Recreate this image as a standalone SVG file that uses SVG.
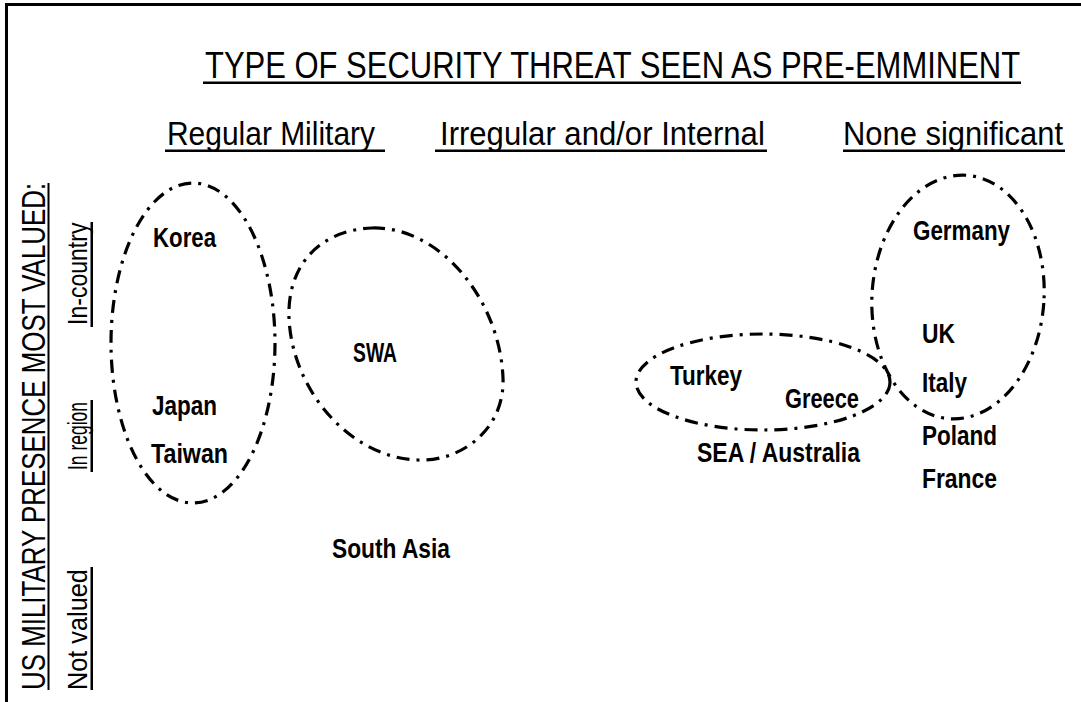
<svg xmlns="http://www.w3.org/2000/svg" width="1081" height="702" viewBox="0 0 1081 702">
<style>
.h{font-family:"Liberation Sans",Arial,sans-serif;fill:#000}
.lbl{font-family:"Liberation Sans",Arial,sans-serif;font-weight:bold;font-size:27px;fill:#000}
.ul{fill:#000}
.grp{fill:none;stroke:#000;stroke-width:3.2;stroke-dasharray:13 7 3 7}
</style>
<rect width="1081" height="702" fill="#fff"/>
<g id="frame">
<line x1="6" y1="4.5" x2="1081" y2="4.5" stroke="#000" stroke-width="3"/>
<line x1="6.5" y1="3" x2="6.5" y2="702" stroke="#000" stroke-width="3"/>
</g>
<g id="title">
<text class="h" transform="translate(205,78) scale(0.78,1)" font-size="37" textLength="1045" lengthAdjust="spacingAndGlyphs">TYPE OF SECURITY THREAT SEEN AS PRE-EMMINENT</text>
<rect class="ul" x="203" y="81.5" width="818" height="2.5"/>
</g>
<g id="col-regular">
<text class="h" transform="translate(167,145) scale(0.8,1)" font-size="34" textLength="260" lengthAdjust="spacingAndGlyphs">Regular Military</text>
<rect class="ul" x="165" y="149.5" width="220" height="2.5"/>
</g>
<g id="col-irregular">
<text class="h" transform="translate(440,145) scale(0.8,1)" font-size="34" textLength="406" lengthAdjust="spacingAndGlyphs">Irregular and/or Internal</text>
<rect class="ul" x="435" y="149.5" width="332" height="2.5"/>
</g>
<g id="col-none">
<text class="h" transform="translate(843,145) scale(0.8,1)" font-size="34" textLength="275" lengthAdjust="spacingAndGlyphs">None significant</text>
<rect class="ul" x="843" y="149.5" width="222" height="2.5"/>
</g>
<g id="axis-y">
<text class="h" transform="translate(45,690) rotate(-90) scale(0.8,1)" font-size="33" textLength="634" lengthAdjust="spacingAndGlyphs">US MILITARY PRESENCE MOST VALUED:</text>
<rect class="ul" x="47.5" y="183" width="2" height="507"/>
</g>
<g id="row-incountry">
<text class="h" transform="translate(87,325) rotate(-90) scale(0.8,1)" font-size="27" textLength="128" lengthAdjust="spacingAndGlyphs">In-country</text>
<rect class="ul" x="90.5" y="222" width="2.5" height="105"/>
</g>
<g id="row-inregion">
<text class="h" transform="translate(87,470) rotate(-90) scale(0.8,1)" font-size="27" textLength="85" lengthAdjust="spacingAndGlyphs">In region</text>
<rect class="ul" x="90.5" y="400" width="2.5" height="72"/>
</g>
<g id="row-notvalued">
<text class="h" transform="translate(87,690) rotate(-90) scale(0.8,1)" font-size="27" textLength="151" lengthAdjust="spacingAndGlyphs">Not valued</text>
<rect class="ul" x="90.5" y="567" width="2.5" height="123"/>
</g>
<g id="groups">
<ellipse id="grp-korea" class="grp" cx="193" cy="343" rx="82" ry="160"/>
<path id="grp-swa" class="grp" d="M372,228 C440,226 500,300 503,378 C505,430 460,462 418,460 C350,458 292,390 289,318 C287,265 320,230 372,228 Z"/>
<ellipse id="grp-turkey" class="grp" cx="763" cy="382" rx="127" ry="48"/>
<ellipse id="grp-germany" class="grp" cx="0" cy="0" rx="86" ry="122" transform="translate(958,297) rotate(4)"/>
</g>
<g id="n-korea"><text class="lbl" x="153" y="247" textLength="63" lengthAdjust="spacingAndGlyphs">Korea</text></g>
<g id="n-japan"><text class="lbl" x="152" y="415" textLength="65" lengthAdjust="spacingAndGlyphs">Japan</text></g>
<g id="n-taiwan"><text class="lbl" x="151" y="463" textLength="77" lengthAdjust="spacingAndGlyphs">Taiwan</text></g>
<g id="n-swa"><text class="lbl" x="353" y="362" textLength="44" lengthAdjust="spacingAndGlyphs">SWA</text></g>
<g id="n-turkey"><text class="lbl" x="670" y="385" textLength="72" lengthAdjust="spacingAndGlyphs">Turkey</text></g>
<g id="n-greece"><text class="lbl" x="785" y="408" textLength="74" lengthAdjust="spacingAndGlyphs">Greece</text></g>
<g id="n-sea"><text class="lbl" x="697" y="462" textLength="163" lengthAdjust="spacingAndGlyphs">SEA / Australia</text></g>
<g id="n-germany"><text class="lbl" x="913" y="240" textLength="97" lengthAdjust="spacingAndGlyphs">Germany</text></g>
<g id="n-uk"><text class="lbl" x="922" y="343" textLength="33" lengthAdjust="spacingAndGlyphs">UK</text></g>
<g id="n-italy"><text class="lbl" x="922" y="392" textLength="45" lengthAdjust="spacingAndGlyphs">Italy</text></g>
<g id="n-poland"><text class="lbl" x="922" y="445" textLength="75" lengthAdjust="spacingAndGlyphs">Poland</text></g>
<g id="n-france"><text class="lbl" x="922" y="488" textLength="75" lengthAdjust="spacingAndGlyphs">France</text></g>
<g id="n-southasia"><text class="lbl" x="332" y="558" textLength="118" lengthAdjust="spacingAndGlyphs">South Asia</text></g>
</svg>
